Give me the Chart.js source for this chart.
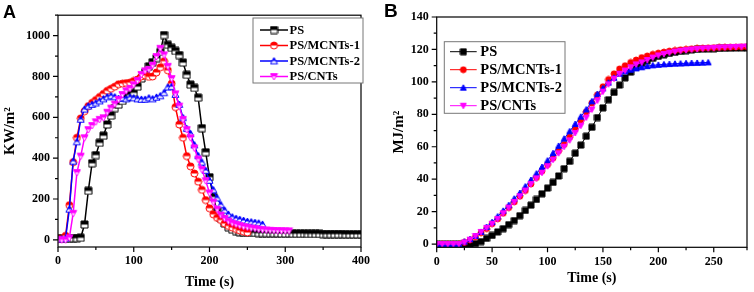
<!DOCTYPE html>
<html lang="en">
<head>
<meta charset="UTF-8">
<title>HRR / THR</title>
<script src="https://cdn.jsdelivr.net/npm/chart.js"></script>
<style>
  body { margin: 0; background: #fff; }
  #wrap { position: relative; width: 754px; height: 292px; }
  .panel { position: absolute; top: 0; width: 377px; height: 292px; }
  .tag { position: absolute; font: bold 18px "Liberation Sans", Arial, sans-serif; line-height: 1; }
</style>
</head>
<body>
<div id="wrap">
  <div class="panel" style="left:0"><canvas id="chartA"></canvas></div>
  <div class="panel" style="left:377px"><canvas id="chartB"></canvas></div>
  <div class="tag" style="left:3px; top:3px">A</div>
  <div class="tag" style="left:384px; top:1px; font-size:19px">B</div>
</div>
<script>
// ---- data ----
const seriesNames = ['PS', 'PS/MCNTs-1', 'PS/MCNTs-2', 'PS/CNTs'];

// panel A: heat release rate (KW/m2), one point every 5 s
const timeA = [0, 5, 10, 15, 20, 25, 30, 35, 40, 45, 50, 55, 60, 65, 70, 75, 80, 85, 90, 95,
  100, 105, 110, 115, 120, 125, 130, 135, 140, 145, 150, 155, 160, 165, 170, 175, 180, 185, 190, 195,
  200, 205, 210, 215, 220, 225, 230, 235, 240, 245, 250, 255, 260, 265, 270, 275, 280, 285, 290, 295,
  300, 305, 310, 315, 320, 325, 330, 335, 340, 345, 350, 355, 360, 365, 370, 375, 380, 385, 390, 395, 400];
const hrrPS = [5, 5, 5, 6, 8, 8, 10, 75, 240, 375, 415, 475, 510, 565, 608, 645, 662, 680, 695, 710,
  720, 750, 790, 820, 850, 870, 890, 920, 1003, 955, 940, 925, 905, 868, 808, 760, 744, 696, 547, 429,
  307, 210, 140, 105, 80, 62, 50, 43, 38, 36, 35, 34, 34, 33, 33, 33, 32, 32, 32, 31,
  31, 31, 30, 30, 30, 30, 29, 29, 29, 29, 28, 28, 28, 28, 28, 28, 27, 27, 27, 27, 27];
const hrrMCNT1 = [5, 5, 20, 170, 380, 500, 595, 630, 655, 671, 685, 700, 715, 730, 740, 750, 762, 765, 768, 770,
  778, 785, 800, 805, 798, 800, 820, 845, 875, 830, 765, 650, 565, 500, 410, 360, 325, 285, 245, 195,
  155, 125, 108, 97, 80, 68, 60, 53, 46, 40, 36];
const hrrMCNT2 = [5, 5, 8, 150, 385, 480, 590, 640, 655, 663, 670, 680, 690, 700, 705, 700, 692, 695, 690, 698,
  695, 690, 688, 688, 695, 690, 698, 705, 720, 748, 750, 712, 663, 598, 545, 520, 465, 412, 380, 340,
  291, 245, 205, 172, 145, 125, 112, 105, 100, 95, 90, 88, 85, 82, 76];
const hrrCNT = [0, 0, 0, 10, 130, 330, 410, 500, 540, 560, 578, 590, 598, 625, 645, 665, 688, 712, 730, 742,
  760, 780, 810, 828, 835, 855, 898, 938, 906, 850, 790, 715, 655, 590, 540, 500, 450, 395, 345, 290,
  230, 185, 150, 121, 105, 92, 82, 76, 70, 65, 62, 58, 55, 52, 50, 48, 47, 46, 45, 45, 44, 44];

// panel B: total heat release (MJ/m2)
const timeB = [0, 5, 10, 15, 20, 25, 30, 35, 40, 45, 50, 55, 60, 65, 70, 75, 80, 85, 90, 95,
  100, 105, 110, 115, 120, 125, 130, 135, 140, 145, 150, 155, 160, 165, 170, 175, 180, 185, 190, 195,
  200, 205, 210, 215, 220, 225, 230, 235, 240, 245, 250, 255, 260, 265, 270, 275, 280];
const thrPS = [0, 0, 0, 0, 0, 0, 0, 0.3, 1.5, 3.5, 5.3, 7.5, 9.5, 12, 14.5, 17.5, 20.7, 24, 27.5, 31,
  34.5, 38, 42, 46.5, 51, 56, 61, 66.5, 72, 78, 84, 89, 93.5, 98, 102.5, 106, 109, 111.5, 113, 114.5,
  115.7, 116.7, 117.5, 118.2, 118.8, 119.3, 119.7, 120, 120.2, 120.4, 120.5, 120.6, 120.7, 120.8, 120.9, 121, 121];
const thrMCNT1 = [0, 0, 0, 0, 0, 1, 2.5, 4.5, 7, 9.5, 12.5, 15.5, 19, 22.5, 26, 29.5, 33, 37, 41, 45,
  49, 53, 57.5, 61.5, 66, 71, 76, 81.5, 87, 92, 97, 101.5, 105, 108, 110, 112, 113.5, 115, 116, 117,
  117.8, 118.4, 119, 119.4, 119.8, 120.1, 120.4, 120.6, 120.8, 121, 121.1, 121.2, 121.3, 121.4, 121.5, 121.6, 121.7];
const thrMCNT2 = [0, 0, 0, 0, 0, 1.5, 3, 5, 7.5, 10.5, 13.5, 17, 20.5, 24, 28, 31.5, 35.5, 39.5, 43.5, 47.5,
  51.5, 56, 60.5, 65, 69.5, 74, 78.5, 83, 88, 92.5, 96, 99.5, 102.5, 105, 106.5, 107.5, 108.3, 109, 109.7, 110.2,
  110.5, 110.8, 111, 111.2, 111.3, 111.5, 111.6, 111.7, 111.8, 112];
const thrCNT = [0, 0, 0, 0, 0, 1, 2.7, 5, 7.5, 10, 12.5, 15.5, 19, 22.5, 26, 29.5, 33, 37, 40.5, 44,
  48, 52, 56, 60, 64, 68.5, 73, 78, 83, 88.5, 94, 98.5, 102, 105, 107, 109, 110.8, 112, 113.5, 115,
  116.3, 117.2, 118, 118.7, 119.2, 119.6, 120, 120.3, 120.6, 120.8, 121, 121.2, 121.3, 121.5, 121.6, 121.7, 121.8];

// ---- styles ----
const colors = ['#000000', '#ff0000', '#0000ff', '#ff00ff'];
const shapes = ['square', 'circle', 'up', 'down'];
const serif = '"Liberation Serif", "Times New Roman", serif';

function marker(shape, color, size, half) {
  const s = size + 2;
  const c = document.createElement('canvas');
  c.width = s; c.height = s;
  const g = c.getContext('2d');
  const m = s / 2, r = size / 2;
  function path() {
    g.beginPath();
    if (shape === 'square') g.rect(m - r, m - r, size, size);
    else if (shape === 'circle') g.arc(m, m, r, 0, Math.PI * 2);
    else if (shape === 'up') { g.moveTo(m, m - r); g.lineTo(m + r, m + r * 0.8); g.lineTo(m - r, m + r * 0.8); g.closePath(); }
    else { g.moveTo(m, m + r); g.lineTo(m + r, m - r * 0.8); g.lineTo(m - r, m - r * 0.8); g.closePath(); }
  }
  path();
  if (half) {
    g.fillStyle = '#fff'; g.fill();
    g.save(); g.clip(); g.fillStyle = color; g.fillRect(0, 0, s, m); g.restore();
  } else {
    g.fillStyle = color; g.fill();
  }
  path();
  g.strokeStyle = color; g.lineWidth = 1; g.stroke();
  return c;
}

function toXY(time, vals) {
  return vals.map((v, i) => ({ x: time[i], y: v }));
}

function buildSets(time, list, size, half, lw) {
  return list.map((vals, i) => ({
    label: seriesNames[i],
    data: toXY(time, vals),
    borderColor: colors[i],
    backgroundColor: colors[i],
    borderWidth: lw,
    pointStyle: marker(shapes[i], colors[i], size, half),
    pointRadius: size / 2,
    tension: 0,
    order: 4 - i
  }));
}

// frame, ticks and legend drawn on top
const frame = {
  id: 'frame',
  afterDraw(chart, args, o) {
    const { ctx, chartArea: a, scales } = chart;
    ctx.save();
    ctx.strokeStyle = '#000';
    ctx.lineWidth = 1.2;
    ctx.strokeRect(a.left, a.top, a.right - a.left, a.bottom - a.top);
    ctx.beginPath();
    scales.x.ticks.forEach(t => {
      const px = scales.x.getPixelForValue(t.value);
      const len = t.value % o.xMajor === 0 ? 5 : 3;
      ctx.moveTo(px, a.bottom); ctx.lineTo(px, a.bottom + len);
    });
    scales.y.ticks.forEach(t => {
      const py = scales.y.getPixelForValue(t.value);
      const len = t.value % o.yMajor === 0 ? 5 : 3;
      ctx.moveTo(a.left, py); ctx.lineTo(a.left - len, py);
    });
    ctx.stroke();

    const L = o.legend;
    ctx.fillStyle = '#fff';
    ctx.fillRect(L.x, L.y, L.w, L.h);
    ctx.strokeStyle = '#777'; ctx.lineWidth = 1;
    ctx.strokeRect(L.x, L.y, L.w, L.h);
    ctx.font = L.font;
    ctx.textBaseline = 'middle';
    chart.data.datasets.forEach((ds, i) => {
      const yy = L.y + L.first + i * L.gap;
      ctx.strokeStyle = ds.borderColor;
      ctx.lineWidth = ds.borderWidth;
      ctx.beginPath(); ctx.moveTo(L.x + L.l0, yy); ctx.lineTo(L.x + L.l1, yy); ctx.stroke();
      const img = ds.pointStyle;
      ctx.drawImage(img, L.x + (L.l0 + L.l1) / 2 - img.width / 2, yy - img.height / 2);
      ctx.fillStyle = '#000';
      ctx.fillText(ds.label, L.x + L.tx, yy + 0.5);
    });
    ctx.restore();
  }
};

function makeChart(id, datasets, c) {
  return new Chart(document.getElementById(id), {
    type: 'line',
    data: { datasets: datasets },
    options: {
      responsive: true,
      maintainAspectRatio: false,
      animation: false,
      layout: { padding: c.padding },
      plugins: {
        legend: { display: false },
        tooltip: { enabled: false },
        frame: { xMajor: c.xMajor, yMajor: c.yMajor, legend: c.legend }
      },
      scales: {
        x: {
          type: 'linear', min: c.xMin, max: c.xMax,
          afterFit(s) { s.height = c.xHeight; },
          grid: { display: false, drawTicks: false },
          border: { display: false },
          ticks: {
            stepSize: c.xStep, autoSkip: false, maxRotation: 0, padding: 7, color: '#000',
            font: { family: serif, size: 12, weight: 'bold' },
            callback: v => (v % c.xMajor === 0 ? v : '')
          },
          title: {
            display: true, text: 'Time (s)', color: '#000',
            font: { family: serif, size: 14, weight: 'bold' },
            padding: { top: 0, bottom: c.xTitlePad }
          }
        },
        y: {
          type: 'linear', min: c.yMin, max: c.yMax,
          afterFit(s) { s.width = c.yWidth; },
          grid: { display: false, drawTicks: false },
          border: { display: false },
          ticks: {
            stepSize: c.yStep, includeBounds: false, autoSkip: false, padding: 8, color: '#000',
            font: { family: serif, size: 12, weight: 'bold' },
            callback: v => (v >= 0 && v % c.yMajor === 0 ? v : '')
          },
          title: {
            display: true, text: c.yTitle, color: '#000',
            font: { family: serif, size: 15, weight: 'bold' },
            padding: 0
          }
        }
      }
    },
    plugins: [frame]
  });
}

makeChart('chartA', buildSets(timeA, [hrrPS, hrrMCNT1, hrrMCNT2, hrrCNT], 7, true, 1.5), {
  padding: { left: 1, top: 14, right: 4, bottom: 0 },
  xMin: 0, xMax: 400, xStep: 50, xMajor: 100, xHeight: 45, xTitlePad: 1,
  yMin: -35, yMax: 1100, yStep: 100, yMajor: 200, yWidth: 57, yTitle: 'KW/m²',
  legend: { x: 253, y: 18, w: 110, h: 65, first: 12, gap: 15.5, l0: 7, l1: 35, tx: 36.5,
    font: 'bold 12.5px ' + serif }
});

makeChart('chartB', buildSets(timeB, [thrPS, thrMCNT1, thrMCNT2, thrCNT], 6, false, 1), {
  padding: { left: 13, top: 17, right: 3.3, bottom: 0 },
  xMin: 0, xMax: 280, xStep: 25, xMajor: 50, xHeight: 44.7, xTitlePad: 5.5,
  yMin: -2, yMax: 140, yStep: 10, yMajor: 20, yWidth: 46.7, yTitle: 'MJ/m²',
  legend: { x: 67.3, y: 41.7, w: 120.7, h: 71.6, first: 10, gap: 18, l0: 5.7, l1: 32.4, tx: 36,
    font: 'bold 14.5px ' + serif }
});
</script>
</body>
</html>
